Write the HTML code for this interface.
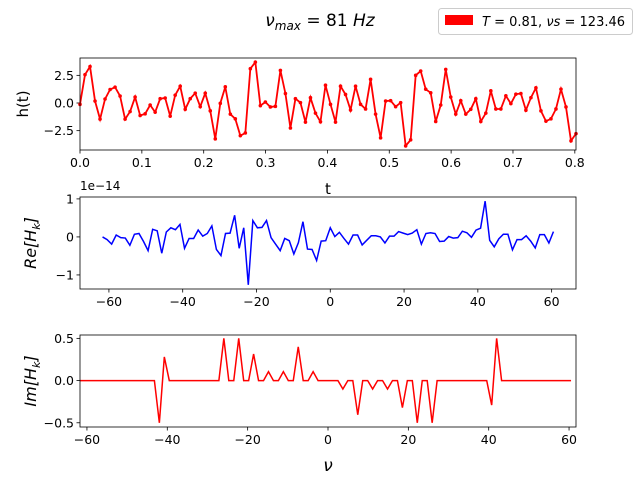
<!DOCTYPE html>
<html><head><meta charset="utf-8"><style>
body{margin:0;background:#fff;}
svg{display:block;font-family:"DejaVu Sans","Liberation Sans",sans-serif;}
</style></head><body>
<svg id="chart" width="640" height="480" viewBox="0 0 640 480" xmlns="http://www.w3.org/2000/svg">
<rect width="640" height="480" fill="#fff"/>
<text x="320" y="26" font-size="17" text-anchor="middle"><tspan font-style="italic">ν</tspan><tspan font-size="12" dy="4" font-style="italic">max</tspan><tspan dy="-4"> = 81 </tspan><tspan font-style="italic">Hz</tspan></text>
<g>
<rect x="438.5" y="8.5" width="194" height="26" rx="3" fill="#fff" stroke="#ccc"/>
<rect x="445" y="15" width="28" height="10" fill="#ff0000"/>
<text x="482" y="26" font-size="13"><tspan font-style="italic">T</tspan> = 0.81, <tspan font-style="italic">νs</tspan> = 123.46</text>
</g>
<g id="p1"></g>
<g id="p2"></g>
<g id="p3"></g>
</svg>
<script>
const hValues=[-0.12,2.56,3.30,0.18,-1.46,0.36,1.22,1.43,0.63,-1.46,-0.77,0.54,-1.13,-0.98,-0.18,-0.83,0.39,0.45,-1.19,0.71,1.52,-0.57,0.39,0.89,-0.33,0.89,-0.71,-3.24,-0.03,1.46,-1.01,-1.43,-2.95,-2.71,3.10,3.69,-0.24,0.09,-0.36,-0.30,2.95,0.86,-2.26,0.39,0.03,-1.73,0.48,-0.92,-1.70,1.61,-0.12,-1.73,1.52,0.77,-0.63,1.52,-0.12,-0.54,2.14,-1.01,-3.15,0.18,0.21,-0.33,0.03,-3.87,-3.33,2.50,2.89,1.25,0.92,-1.67,-0.18,3.04,0.54,-1.01,0.21,-1.01,-0.57,0.39,-1.67,-0.92,1.10,-0.54,-0.54,0.65,-0.06,0.80,0.86,-0.65,0.48,1.37,-0.71,-1.64,-1.43,-0.54,1.25,-0.36,-3.42,-2.77];
const reValues=[0,-0.07,-0.19,0.05,-0.02,-0.03,-0.22,0.07,0.09,-0.12,-0.36,0.20,0.16,-0.43,0.13,0.24,0.19,0.33,-0.30,-0.04,-0.04,0.18,0.02,0.09,0.29,-0.33,-0.49,0.09,0.10,0.57,-0.30,0.24,-1.26,0.43,0.24,0.25,0.43,-0.02,-0.19,-0.36,-0.04,-0.10,-0.45,-0.15,0.40,-0.32,-0.33,-0.62,-0.11,-0.10,0.24,0.01,0.12,-0.04,-0.19,0.05,0.05,-0.21,-0.09,0.03,0.03,0,-0.16,0.02,0.02,0.14,0.10,0.06,0.10,0.19,-0.19,0.09,0.11,0.09,-0.12,-0.11,0.01,-0.03,-0.02,0.15,0.11,-0.01,0.18,0.23,0.94,-0.09,-0.26,-0.05,0.07,0.07,-0.34,-0.07,-0.07,0.03,-0.11,-0.29,0.06,0.06,-0.16,0.14];
const imIdx=[16,17,29,32,35,38,41,44,47,53,56,59,62,65,68,71,83,84];
const imVals=[-0.50,0.28,0.50,0.50,0.315,0.106,0.106,0.40,0.106,-0.10,-0.405,-0.10,-0.10,-0.32,-0.50,-0.50,-0.29,0.50];
const topXTicks=[0,0.1,0.2,0.3,0.4,0.5,0.6,0.7,0.8];
const topYTicks=[-2.5,0,2.5];
const freqTicks=[-60,-40,-20,0,20,40,60];
const reYTicks=[-1,0,1];
const imYTicks=[-0.5,0,0.5];
const dt=0.0081, N=100, fs=1/dt;

const NS="http://www.w3.org/2000/svg";
function mk(parent,tag,attrs){const e=document.createElementNS(NS,tag);for(const k in attrs)e.setAttribute(k,attrs[k]);parent.appendChild(e);return e;}
const L=80,R=576,FS=12.5;
function panel(g,top,bot,xmin,xmax,ymin,ymax,xt,yt,fmtX,fmtY){
  const sx=v=>L+(v-xmin)/(xmax-xmin)*(R-L);
  const sy=v=>bot-(v-ymin)/(ymax-ymin)*(bot-top);
  xt.forEach(t=>{const x=sx(t);
    const l=mk(g,'line',{x1:x,x2:x,y1:bot,y2:bot+3.5,stroke:'#000','stroke-width':0.8});
    
    
    const tx=mk(g,'text',{x:x,y:bot+17,'font-size':FS,'text-anchor':'middle'});tx.textContent=fmtX(t);
    
    });
  yt.forEach(t=>{const y=sy(t);
    const l=mk(g,'line',{x1:L-3.5,x2:L,y1:y,y2:y,stroke:'#000','stroke-width':0.8});
    
    
    const tx=mk(g,'text',{x:L-6,y:y+4.5,'font-size':FS,'text-anchor':'end'});tx.textContent=fmtY(t);
    
    });
  return {sx,sy,frame:()=>{const f=mk(g,'rect',{x:L,y:top,width:R-L,height:bot-top,fill:'none',stroke:'#000','stroke-width':0.8});
    
    }};
}
const f1=v=>v.toFixed(1);
const fi=v=>(v<0?'\u2212':'')+Math.abs(v);
const f1m=v=>(v<0?'\u2212':'')+Math.abs(v).toFixed(1);
const g1=document.getElementById('p1');
const hmin=Math.min(...hValues),hmax=Math.max(...hValues),hm=(hmax-hmin)*0.05;
const P1=panel(g1,58,150,0,(N-1)*dt,hmin-hm,hmax+hm,topXTicks,topYTicks,f1,f1m);
let d='';hValues.forEach((v,i)=>{d+=(i?'L':'M')+P1.sx(i*dt).toFixed(2)+','+P1.sy(v).toFixed(2);});
const line1=mk(g1,'path',{d:d,fill:'none',stroke:'#ff0000','stroke-width':1.8});


hValues.forEach((v,i)=>{const c=mk(g1,'circle',{cx:P1.sx(i*dt),cy:P1.sy(v),r:1.8,fill:'#ff0000'});
  
  });
P1.frame();
const freqs=[];for(let i=0;i<N;i++)freqs.push((i-N/2)*fs/N);
const g2=document.getElementById('p2');
const fmn=freqs[0],fmx=freqs[N-1],fm=(fmx-fmn)*0.05;
const rmin=Math.min(...reValues),rmax=Math.max(...reValues),rm=(rmax-rmin)*0.05;
const P2=panel(g2,197,289,fmn-fm,fmx+fm,rmin-rm,rmax+rm,freqTicks,reYTicks,fi,fi);
d='';reValues.forEach((v,i)=>{d+=(i?'L':'M')+P2.sx(freqs[i]).toFixed(2)+','+P2.sy(v).toFixed(2);});
const line2=mk(g2,'path',{d:d,fill:'none',stroke:'#0000ff','stroke-width':1.5});


P2.frame();
const imValues=new Array(N).fill(0);imIdx.forEach((k,j)=>imValues[k]=imVals[j]);
const g3=document.getElementById('p3');
const P3=panel(g3,335,427,-fs/2,fs/2,-0.55,0.54,freqTicks,imYTicks,fi,f1m);
d='';imValues.forEach((v,i)=>{d+=(i?'L':'M')+P3.sx(freqs[i]).toFixed(2)+','+P3.sy(v).toFixed(2);});
const line3=mk(g3,'path',{d:d,fill:'none',stroke:'#ff0000','stroke-width':1.5});


P3.frame();
</script>
<svg style="position:absolute;left:0;top:0" width="640" height="480">
<text x="80" y="190" font-size="12" font-family="DejaVu Sans,sans-serif">1e−14</text>
<text transform="translate(28,104) rotate(-90)" font-size="15" text-anchor="middle" font-family="DejaVu Sans,sans-serif">h(t)</text>
<text x="328" y="194" font-size="15" text-anchor="middle" font-family="DejaVu Sans,sans-serif">t</text>
<text transform="translate(36,243) rotate(-90)" font-size="16" text-anchor="middle" font-family="DejaVu Sans,sans-serif" font-style="italic">Re[H<tspan font-size="11" dy="4">k</tspan><tspan dy="-4">]</tspan></text>
<text transform="translate(36,381) rotate(-90)" font-size="16" text-anchor="middle" font-family="DejaVu Sans,sans-serif" font-style="italic">Im[H<tspan font-size="11" dy="4">k</tspan><tspan dy="-4">]</tspan></text>
<text x="328" y="471" font-size="17" text-anchor="middle" font-family="DejaVu Sans,sans-serif" font-style="italic">ν</text>
</svg>
</body></html>
